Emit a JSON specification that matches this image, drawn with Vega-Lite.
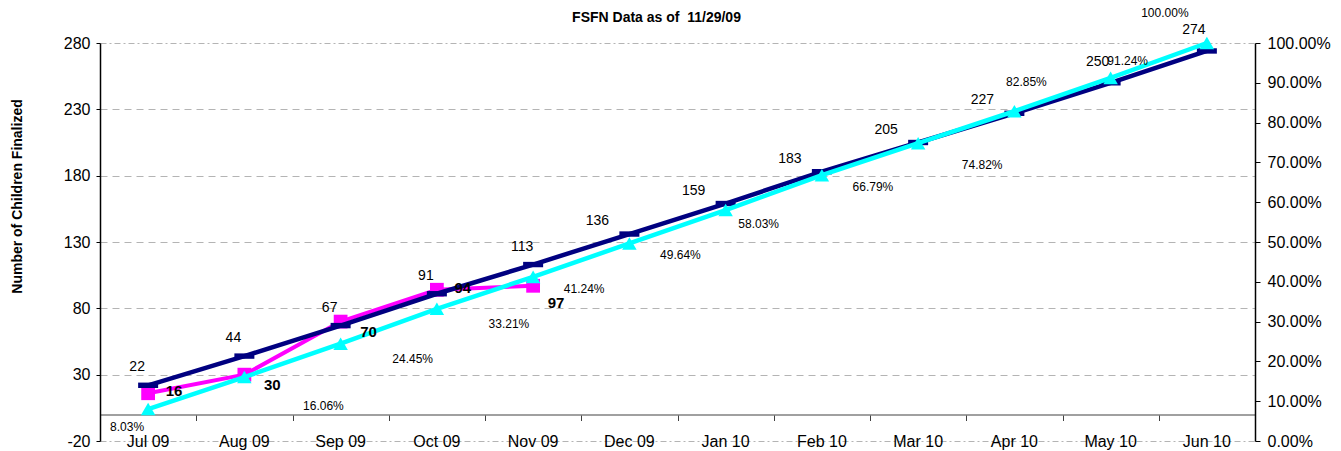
{
  "$schema": "https://vega.github.io/schema/vega-lite/v6.json",
  "width": 1155,
  "height": 398,
  "autosize": {"type": "none"},
  "padding": {"left": 100, "top": 43, "right": 86, "bottom": 10},
  "background": "white",
  "config": {
    "view": {"stroke": null},
    "font": "Liberation Sans",
    "axis": {"labelFont": "Liberation Sans", "titleFont": "Liberation Sans", "labelColor": "black", "titleColor": "black"},
    "text": {"font": "Liberation Sans"}
  },
  "title": {
    "text": "FSFN Data as of \u00a011/29/09",
    "font": "Liberation Sans",
    "fontSize": 14,
    "fontWeight": "bold",
    "color": "black",
    "anchor": "middle",
    "dx": -21,
    "offset": 0,
    "dy": 18
  },
  "datasets": {
    "d": [
      {"month": "Jul 09", "target": 22, "actual": 16, "pct": 0.0803},
      {"month": "Aug 09", "target": 44, "actual": 30, "pct": 0.1606},
      {"month": "Sep 09", "target": 67, "actual": 70, "pct": 0.2445},
      {"month": "Oct 09", "target": 91, "actual": 94, "pct": 0.3321},
      {"month": "Nov 09", "target": 113, "actual": 97, "pct": 0.4124},
      {"month": "Dec 09", "target": 136, "actual": null, "pct": 0.4964},
      {"month": "Jan 10", "target": 159, "actual": null, "pct": 0.5803},
      {"month": "Feb 10", "target": 183, "actual": null, "pct": 0.6679},
      {"month": "Mar 10", "target": 205, "actual": null, "pct": 0.7482},
      {"month": "Apr 10", "target": 227, "actual": null, "pct": 0.8285},
      {"month": "May 10", "target": 250, "actual": null, "pct": 0.9124},
      {"month": "Jun 10", "target": 274, "actual": null, "pct": 1.0}
    ]
  },
  "data": {"name": "d"},
  "resolve": {"scale": {"y": "independent"}, "axis": {"x": "independent"}},
  "layer": [
    {
      "transform": [
        {"fold": ["target", "actual"], "as": ["series", "value"]},
        {"filter": "isValid(datum.value)"}
      ],
      "encoding": {
        "x": {
          "field": "month", "type": "ordinal", "sort": null,
          "scale": {"type": "band", "paddingInner": 0, "paddingOuter": 0},
          "bandPosition": 0.5,
          "axis": {
            "orient": "bottom", "domain": false, "ticks": false, "grid": false,
            "labelPadding": 0, "labelBaseline": "middle", "labelAngle": 0,
            "labelFontSize": 16, "title": null
          }
        },
        "y": {
          "field": "value", "type": "quantitative",
          "scale": {"domain": [-20, 280], "nice": false, "zero": false},
          "axis": {
            "orient": "left",
            "values": [-20, 30, 80, 130, 180, 230, 280],
            "labelExpr": "replace(datum.label, '\u2212', '-')",
            "grid": true, "gridColor": "#b4b4b4", "gridWidth": 1,
            "gridDash": {"condition": {"test": "datum.value == -20 || datum.value == 280", "value": [6, 3, 2, 3]}, "value": [7, 5]},
            "domainColor": "black", "domainWidth": 1.5,
            "tickColor": "black", "tickSize": 4,
            "labelFontSize": 16, "labelPadding": 6,
            "title": "Number of Children Finalized",
            "titleFontSize": 14, "titleFontWeight": "bold",
            "titleX": -83, "titleY": 153, "titleAngle": -90,
            "titleAlign": "center", "titleBaseline": "middle"
          }
        }
      },
      "layer": [
        {
          "transform": [{"filter": "datum.series == 'actual'"}],
          "mark": {"type": "line", "color": "#FF00FF", "strokeWidth": 4}
        },
        {
          "transform": [{"filter": "datum.series == 'actual'"}],
          "mark": {"type": "point", "shape": "square", "filled": true, "color": "#FF00FF", "size": 190, "opacity": 1}
        },
        {
          "transform": [{"filter": "datum.series == 'target'"}],
          "mark": {"type": "line", "color": "#000080", "strokeWidth": 4.5}
        },
        {
          "transform": [{"filter": "datum.series == 'target'"}],
          "mark": {"type": "point", "shape": "M-1,-0.27H1V0.27H-1Z", "filled": true, "color": "#000080", "size": 400, "opacity": 1}
        }
      ]
    },
    {
      "encoding": {
        "x": {
          "field": "month", "type": "ordinal", "sort": null,
          "scale": {"type": "band", "paddingInner": 0, "paddingOuter": 0},
          "bandPosition": 0.5,
          "axis": {
            "orient": "bottom", "offset": -26.5, "labels": false, "grid": false,
            "domain": true, "domainColor": "#808080", "domainWidth": 1.5,
            "ticks": true, "tickBand": "extent", "tickSize": 6, "tickColor": "#404040", "tickWidth": 1,
            "title": null
          }
        },
        "y": {
          "field": "pct", "type": "quantitative",
          "scale": {"domain": [0, 1], "nice": false, "zero": false},
          "axis": {
            "orient": "right",
            "values": [0, 0.1, 0.2, 0.3, 0.4, 0.5, 0.6, 0.7, 0.8, 0.9, 1.0],
            "format": ".2%", "grid": false,
            "domainColor": "black", "domainWidth": 1.5,
            "tickColor": "black", "tickSize": 5,
            "labelFontSize": 16, "labelPadding": 7, "title": null
          }
        }
      },
      "layer": [
        {"mark": {"type": "line", "color": "#00FFFF", "strokeWidth": 4.5}},
        {"mark": {"type": "point", "shape": "triangle-up", "filled": true, "color": "#00FFFF", "size": 210, "opacity": 1}},
        {
          "transform": [{"filter": "datum.month == 'Jul 09'"}],
          "mark": {"type": "text", "fontSize": 12, "color": "black", "align": "center", "baseline": "middle", "dx": -21, "dy": 18},
          "encoding": {"text": {"field": "pct", "type": "quantitative", "format": ".2%"}}
        },
        {
          "transform": [{"filter": "datum.month == 'Aug 09'"}],
          "mark": {"type": "text", "fontSize": 12, "color": "black", "align": "center", "baseline": "middle", "dx": 79, "dy": 29},
          "encoding": {"text": {"field": "pct", "type": "quantitative", "format": ".2%"}}
        },
        {
          "transform": [{"filter": "datum.month == 'Sep 09' || datum.month == 'Oct 09'"}],
          "mark": {"type": "text", "fontSize": 12, "color": "black", "align": "center", "baseline": "middle", "dx": 72, "dy": 15},
          "encoding": {"text": {"field": "pct", "type": "quantitative", "format": ".2%"}}
        },
        {
          "transform": [{"filter": "datum.month == 'Nov 09' || datum.month == 'Dec 09' || datum.month == 'Feb 10'"}],
          "mark": {"type": "text", "fontSize": 12, "color": "black", "align": "center", "baseline": "middle", "dx": 51, "dy": 12},
          "encoding": {"text": {"field": "pct", "type": "quantitative", "format": ".2%"}}
        },
        {
          "transform": [{"filter": "datum.month == 'Jan 10'"}],
          "mark": {"type": "text", "fontSize": 12, "color": "black", "align": "center", "baseline": "middle", "dx": 33, "dy": 14},
          "encoding": {"text": {"field": "pct", "type": "quantitative", "format": ".2%"}}
        },
        {
          "transform": [{"filter": "datum.month == 'Mar 10'"}],
          "mark": {"type": "text", "fontSize": 12, "color": "black", "align": "center", "baseline": "middle", "dx": 64, "dy": 22},
          "encoding": {"text": {"field": "pct", "type": "quantitative", "format": ".2%"}}
        },
        {
          "transform": [{"filter": "datum.month == 'Apr 10'"}],
          "mark": {"type": "text", "fontSize": 12, "color": "black", "align": "center", "baseline": "middle", "dx": 12, "dy": -29},
          "encoding": {"text": {"field": "pct", "type": "quantitative", "format": ".2%"}}
        },
        {
          "transform": [{"filter": "datum.month == 'May 10'"}],
          "mark": {"type": "text", "fontSize": 12, "color": "black", "align": "center", "baseline": "middle", "dx": 17, "dy": -17},
          "encoding": {"text": {"field": "pct", "type": "quantitative", "format": ".2%"}}
        },
        {
          "transform": [{"filter": "datum.month == 'Jun 10'"}],
          "mark": {"type": "text", "fontSize": 12, "color": "black", "align": "center", "baseline": "middle", "dx": -42, "dy": -30},
          "encoding": {"text": {"field": "pct", "type": "quantitative", "format": ".2%"}}
        }
      ]
    },
    {
      "transform": [
        {"fold": ["target", "actual"], "as": ["series", "value"]},
        {"filter": "isValid(datum.value)"}
      ],
      "encoding": {
        "x": {
          "field": "month", "type": "ordinal", "sort": null,
          "scale": {"type": "band", "paddingInner": 0, "paddingOuter": 0},
          "bandPosition": 0.5,
          "axis": null
        },
        "y": {
          "field": "value", "type": "quantitative",
          "scale": {"domain": [-20, 280], "nice": false, "zero": false},
          "axis": null
        }
      },
      "layer": [
        {
          "transform": [{"filter": "datum.series == 'target' && indexof(['Jul 09','Aug 09','Sep 09','Oct 09','Nov 09'], datum.month) >= 0"}],
          "mark": {"type": "text", "fontSize": 14, "color": "black", "align": "center", "baseline": "middle", "dx": -11, "dy": -18},
          "encoding": {"text": {"field": "value", "type": "quantitative"}}
        },
        {
          "transform": [{"filter": "datum.series == 'target' && indexof(['Dec 09','Jan 10','Feb 10','Mar 10','Apr 10'], datum.month) >= 0"}],
          "mark": {"type": "text", "fontSize": 14, "color": "black", "align": "center", "baseline": "middle", "dx": -32, "dy": -13},
          "encoding": {"text": {"field": "value", "type": "quantitative"}}
        },
        {
          "transform": [{"filter": "datum.series == 'target' && indexof(['May 10','Jun 10'], datum.month) >= 0"}],
          "mark": {"type": "text", "fontSize": 14, "color": "black", "align": "center", "baseline": "middle", "dx": -13, "dy": -21},
          "encoding": {"text": {"field": "value", "type": "quantitative"}}
        },
        {
          "transform": [{"filter": "datum.series == 'actual' && (datum.month == 'Jul 09' || datum.month == 'Oct 09')"}],
          "mark": {"type": "text", "fontSize": 15, "fontWeight": "bold", "color": "black", "align": "center", "baseline": "middle", "dx": 26, "dy": -2},
          "encoding": {"text": {"field": "value", "type": "quantitative"}}
        },
        {
          "transform": [{"filter": "datum.series == 'actual' && (datum.month == 'Aug 09' || datum.month == 'Sep 09')"}],
          "mark": {"type": "text", "fontSize": 15, "fontWeight": "bold", "color": "black", "align": "center", "baseline": "middle", "dx": 28, "dy": 10},
          "encoding": {"text": {"field": "value", "type": "quantitative"}}
        },
        {
          "transform": [{"filter": "datum.series == 'actual' && datum.month == 'Nov 09'"}],
          "mark": {"type": "text", "fontSize": 15, "fontWeight": "bold", "color": "black", "align": "center", "baseline": "middle", "dx": 23, "dy": 17},
          "encoding": {"text": {"field": "value", "type": "quantitative"}}
        },
        {
          "data": {"values": [{"label": "Gap: 177"}]},
          "mark": {"type": "text", "fontSize": 14, "fontWeight": "bold", "color": "black", "align": "center", "baseline": "middle", "dx": -23},
          "encoding": {
            "x": {"datum": "Sep 09", "type": "ordinal", "bandPosition": 0.5, "axis": null},
            "y": {"datum": 210, "type": "quantitative", "axis": null},
            "text": {"field": "label", "type": "nominal"}
          }
        }
      ]
    }
  ]
}
